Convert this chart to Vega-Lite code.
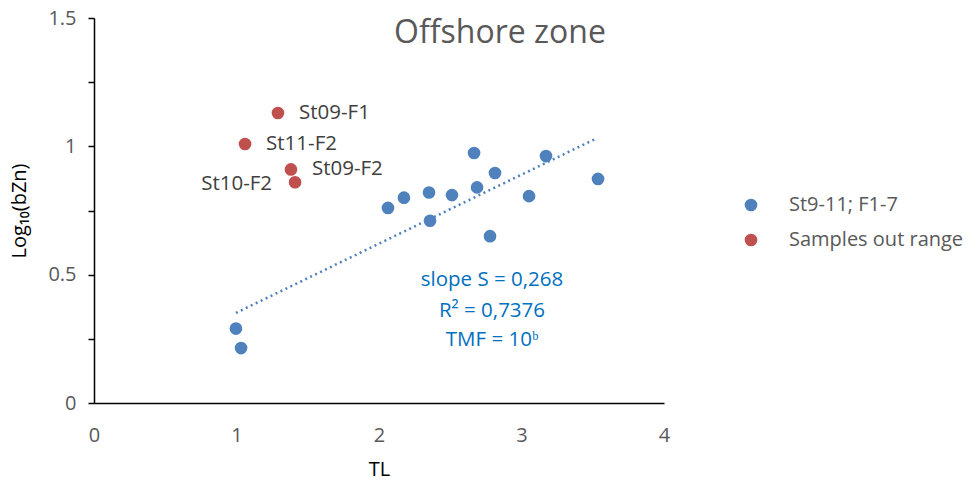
{
  "$schema": "https://vega.github.io/schema/vega-lite/v6.json",
  "width": 570,
  "height": 385,
  "autosize": {"type": "none"},
  "padding": {"left": 94, "top": 18, "right": 313, "bottom": 83},
  "config": {
    "font": "Open Sans",
    "view": {"stroke": null},
    "axis": {"grid": false, "labelFlush": false, "domainColor": "#000000", "domainWidth": 1.5, "tickColor": "#000000", "tickWidth": 1.5, "labelColor": "#595959", "labelFontSize": 20, "titleColor": "#000000", "titleFontSize": 20, "titleFontWeight": "normal", "labelFont": "Open Sans", "titleFont": "Open Sans"}
  },
  "datasets": {
    "points": [
      {"TL": 0.996, "logbZn": 0.29, "group": "St9-11; F1-7", "label": ""},
      {"TL": 1.032, "logbZn": 0.214, "group": "St9-11; F1-7", "label": ""},
      {"TL": 2.063, "logbZn": 0.76, "group": "St9-11; F1-7", "label": ""},
      {"TL": 2.175, "logbZn": 0.80, "group": "St9-11; F1-7", "label": ""},
      {"TL": 2.351, "logbZn": 0.82, "group": "St9-11; F1-7", "label": ""},
      {"TL": 2.358, "logbZn": 0.71, "group": "St9-11; F1-7", "label": ""},
      {"TL": 2.512, "logbZn": 0.81, "group": "St9-11; F1-7", "label": ""},
      {"TL": 2.667, "logbZn": 0.974, "group": "St9-11; F1-7", "label": ""},
      {"TL": 2.688, "logbZn": 0.84, "group": "St9-11; F1-7", "label": ""},
      {"TL": 2.814, "logbZn": 0.896, "group": "St9-11; F1-7", "label": ""},
      {"TL": 2.779, "logbZn": 0.65, "group": "St9-11; F1-7", "label": ""},
      {"TL": 3.053, "logbZn": 0.806, "group": "St9-11; F1-7", "label": ""},
      {"TL": 3.172, "logbZn": 0.962, "group": "St9-11; F1-7", "label": ""},
      {"TL": 3.537, "logbZn": 0.873, "group": "St9-11; F1-7", "label": ""},
      {"TL": 1.291, "logbZn": 1.13, "group": "Samples out range", "label": "St09-F1"},
      {"TL": 1.060, "logbZn": 1.009, "group": "Samples out range", "label": "St11-F2"},
      {"TL": 1.382, "logbZn": 0.91, "group": "Samples out range", "label": "St09-F2"},
      {"TL": 1.411, "logbZn": 0.86, "group": "Samples out range", "label": "St10-F2"}
    ],
    "trend": [
      {"TL": 0.996, "logbZn": 0.351},
      {"TL": 3.53, "logbZn": 1.032}
    ],
    "notes": [
      {"TL": 2.793, "logbZn": 0.479, "text": "slope S = 0,268"},
      {"TL": 2.793, "logbZn": 0.358, "text": "R² = 0,7376"},
      {"TL": 2.793, "logbZn": 0.245, "text": "TMF = 10ᵇ"}
    ],
    "title": [
      {"TL": 2.849, "logbZn": 1.44, "text": "Offshore zone"}
    ]
  },
  "layer": [
    {
      "data": {"name": "trend"},
      "mark": {"type": "line", "color": "#4F81BD", "strokeWidth": 2.5, "strokeDash": [2, 3.5]},
      "encoding": {
        "x": {"field": "TL", "type": "quantitative", "scale": {"domain": [0, 4], "nice": false},
          "axis": {"title": "TL", "values": [0, 1, 2, 3, 4], "ticks": false, "labelPadding": 22, "titlePadding": 14, "format": "d"}},
        "y": {"field": "logbZn", "type": "quantitative", "scale": {"domain": [0, 1.5], "nice": false},
          "axis": {"title": "Log₁₀(bZn)", "values": [0, 0.25, 0.5, 0.75, 1, 1.25, 1.5], "tickSize": 6, "labelPadding": 12, "titlePadding": 18, "format": "~g",
            "labelExpr": "(datum.value * 2) % 1 == 0 ? datum.label : ''"}}
      }
    },
    {
      "data": {"name": "points"},
      "mark": {"type": "circle", "size": 160, "opacity": 1},
      "encoding": {
        "x": {"field": "TL", "type": "quantitative"},
        "y": {"field": "logbZn", "type": "quantitative"},
        "color": {"field": "group", "type": "nominal",
          "scale": {"domain": ["St9-11; F1-7", "Samples out range"], "range": ["#4F81BD", "#C0504D"]},
          "legend": {"title": null, "orient": "none", "legendX": 647, "legendY": 177, "symbolSize": 160, "symbolType": "circle", "symbolOpacity": 1, "labelFontSize": 20, "labelColor": "#595959", "labelFont": "Open Sans", "labelOffset": 28, "labelLimit": 400, "rowPadding": 15}}
      }
    },
    {
      "data": {"name": "points"},
      "transform": [{"filter": "datum.label == 'St09-F1' || datum.label == 'St11-F2' || datum.label == 'St09-F2'"}],
      "mark": {"type": "text", "align": "left", "baseline": "middle", "dx": 21, "fontSize": 20.5, "color": "#404040"},
      "encoding": {
        "x": {"field": "TL", "type": "quantitative"},
        "y": {"field": "logbZn", "type": "quantitative"},
        "text": {"field": "label"}
      }
    },
    {
      "data": {"name": "points"},
      "transform": [{"filter": "datum.label == 'St10-F2'"}],
      "mark": {"type": "text", "align": "right", "baseline": "middle", "dx": -23, "dy": 2, "fontSize": 20.5, "color": "#404040"},
      "encoding": {
        "x": {"field": "TL", "type": "quantitative"},
        "y": {"field": "logbZn", "type": "quantitative"},
        "text": {"field": "label"}
      }
    },
    {
      "data": {"name": "notes"},
      "mark": {"type": "text", "align": "center", "baseline": "middle", "fontSize": 20.5, "color": "#0070C0"},
      "encoding": {
        "x": {"field": "TL", "type": "quantitative"},
        "y": {"field": "logbZn", "type": "quantitative"},
        "text": {"field": "text"}
      }
    },
    {
      "data": {"name": "title"},
      "mark": {"type": "text", "align": "center", "baseline": "middle", "fontSize": 32, "color": "#595959"},
      "encoding": {
        "x": {"field": "TL", "type": "quantitative"},
        "y": {"field": "logbZn", "type": "quantitative"},
        "text": {"field": "text"}
      }
    }
  ]
}
